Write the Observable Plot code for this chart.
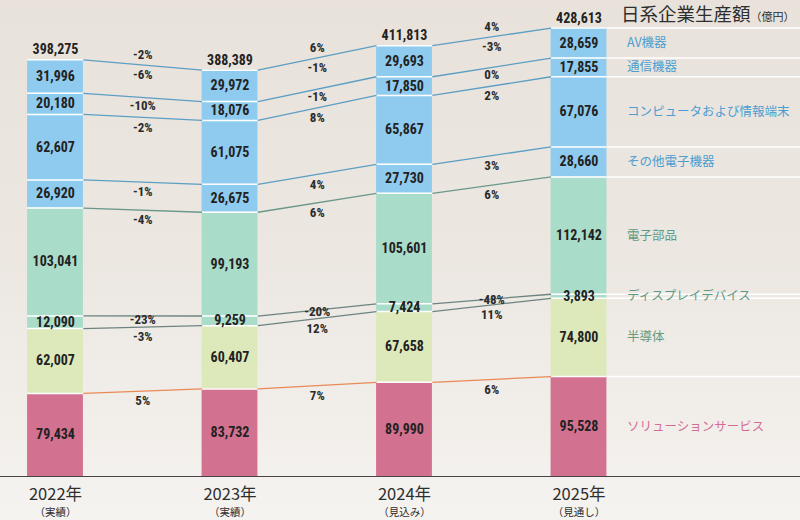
<!DOCTYPE html>
<html><head><meta charset="utf-8">
<script src="https://cdn.jsdelivr.net/npm/d3@7"></script>
<script src="https://cdn.jsdelivr.net/npm/@observablehq/plot@0.6"></script>
<style>
html,body{margin:0;padding:0}
body{width:800px;height:520px;overflow:hidden;background:linear-gradient(#e8e2db 0%,#ece7e1 50%,#f5f3f0 100%);font-family:"Noto Sans CJK JP","Noto Sans",sans-serif}
#wrap{position:relative;width:800px;height:520px}
#title{position:absolute;left:621px;top:4px;color:#2e2e2e;white-space:nowrap;line-height:1}
#title .main{font-size:18.5px}
#title .unit{font-size:11px}
</style>
</head><body>
<div id="wrap"><div id="title"><span class="main">日系企業生産額</span><span class="unit">（億円）</span></div></div>
<script>
// ---- data ----
const years = ["2022年", "2023年", "2024年", "2025年"];
const yearNotes = ["（実績）", "（実績）", "（見込み）", "（見通し）"];
// stacked bottom -> top
const categories = ["ソリューションサービス", "半導体", "ディスプレイデバイス", "電子部品", "その他電子機器", "コンピュータおよび情報端末", "通信機器", "AV機器"];
const solutionService = [79434, 83732, 89990, 95528];
const semiconductor   = [62007, 60407, 67658, 74800];
const displayDevice   = [12090, 9259, 7424, 3893];
const electronicParts = [103041, 99193, 105601, 112142];
const otherElectronic = [26920, 26675, 27730, 28660];
const computers       = [62607, 61075, 65867, 67076];
const communication   = [20180, 18076, 17850, 17855];
const avEquipment     = [31996, 29972, 29693, 28659];
const totals          = [398275, 388389, 411813, 428613];
// year-on-year change labels (3 transitions)
const totalGrowth           = ["-2%", "6%", "4%"];
const solutionServiceGrowth = ["5%", "7%", "6%"];
const semiconductorGrowth   = ["-3%", "12%", "11%"];
const displayDeviceGrowth   = ["-23%", "-20%", "-48%"];
const electronicPartsGrowth = ["-4%", "6%", "6%"];
const otherElectronicGrowth = ["-1%", "4%", "3%"];
const computersGrowth       = ["-2%", "8%", "2%"];
const communicationGrowth   = ["-10%", "-1%", "0%"];
const avEquipmentGrowth     = ["-6%", "-1%", "-3%"];

const series = [solutionService, semiconductor, displayDevice, electronicParts, otherElectronic, computers, communication, avEquipment];
const growths = [solutionServiceGrowth, semiconductorGrowth, displayDeviceGrowth, electronicPartsGrowth, otherElectronicGrowth, computersGrowth, communicationGrowth, avEquipmentGrowth];

// ---- styles ----
const BLUE = "#8fcbef", MINT = "#aadcca", LGREEN = "#dde9bb", PINK = "#d37190";
const fills = [PINK, LGREEN, MINT, MINT, BLUE, BLUE, BLUE, BLUE];
const lineColors = ["#ea8a55", "#6d8480", "#6d8480", "#6b978c", "#5c9ec4", "#5c9ec4", "#5c9ec4", "#5c9ec4"];
const labelColors = ["#d36d96", "#6a9a7c", "#5f9a84", "#5f9a84", "#4c9ed2", "#4c9ed2", "#4c9ed2", "#4c9ed2"];
const numFont = '"Liberation Sans Narrow","Roboto Condensed","DejaVu Sans Condensed",sans-serif';
const jpFont = '"Noto Sans CJK JP","Noto Sans",sans-serif';
const hw = 0.16;            // half bar width in x units
const step = 174.5;         // px per year
const xDomain = [-55 / step, (800 - 55) / step];
const yMax = 455000;
const unitsPerPx = yMax / 476;

// ---- build stacked segments ----
const segs = [];
years.forEach((yr, i) => {
  let cum = 0;
  series.forEach((s, k) => {
    segs.push({i, k, y1: cum, y2: cum + s[i], v: s[i]});
    cum += s[i];
  });
});
const seg = (k, i) => segs.find(d => d.k === k && d.i === i);

const links = [], pctLabels = [];
for (let t = 0; t < 3; t++) {
  categories.forEach((c, k) => {
    const a = seg(k, t), b = seg(k, t + 1);
    links.push({x1: t + hw, x2: t + 1 - hw, y1: a.y2, y2: b.y2, k});
    const mid = (a.y2 + b.y2) / 2, low = (a.y1 + b.y1) / 2;
    const off = Math.min(10 * unitsPerPx, (mid - low) / 2 - 2 * unitsPerPx);
    pctLabels.push({x: t + 0.5, y: mid - off, text: growths[k][t]});
  });
  pctLabels.push({x: t + 0.5, y: (totals[t] + totals[t + 1]) / 2 + 10 * unitsPerPx, text: totalGrowth[t]});
}
const last = years.length - 1;
const rightLabels = categories.map((c, k) => {
  const s = seg(k, last);
  return {x: last, y: (s.y1 + s.y2) / 2, text: c, k};
});
const yearIdx = years.map((y, i) => ({i, y, note: yearNotes[i], total: totals[i]}));

const chart = Plot.plot({
  width: 800, height: 520,
  marginLeft: 0, marginRight: 0, marginTop: 0, marginBottom: 44,
  x: {type: "linear", domain: xDomain, axis: null},
  y: {domain: [0, yMax], axis: null},
  style: {background: "transparent", overflow: "visible"},
  marks: [
    // white rules extending right of last bar
    Plot.ruleY(segs.filter(d => d.i === last), {y: "y2", x1: last + hw, x2: xDomain[1], stroke: "white", strokeWidth: 1.5}),
    Plot.rect(segs, {x1: d => d.i - hw, x2: d => d.i + hw, y1: "y1", y2: "y2", fill: d => fills[d.k]}),
    Plot.ruleY(segs, {y: "y2", x1: d => d.i - hw, x2: d => d.i + hw, stroke: "white", strokeWidth: 1.5}),
    Plot.link(links, {x1: "x1", x2: "x2", y1: "y1", y2: "y2", stroke: d => lineColors[d.k], strokeWidth: 1.3}),
    Plot.text(pctLabels, {x: "x", y: "y", text: "text", fontFamily: numFont, fontWeight: "bold", fontSize: 13, fill: "#2b2b2b"}),
    Plot.text(segs, {x: "i", y: d => (d.y1 + d.y2) / 2, text: d => d3.format(",")(d.v), fontFamily: numFont, fontWeight: "bold", fontSize: 14, fill: "#222"}),
    Plot.text(yearIdx, {x: "i", y: "total", dy: -10, text: d => d3.format(",")(d.total), fontFamily: numFont, fontWeight: "bold", fontSize: 14, fill: "#222"}),
    Plot.text(rightLabels, {x: "x", y: "y", dx: 48, text: "text", textAnchor: "start", fontFamily: jpFont, fontSize: 12.5, fill: d => labelColors[d.k]}),
    Plot.ruleY([0], {stroke: "#444", strokeWidth: 1.2}),
    Plot.text(yearIdx, {x: "i", y: 0, dy: 18, text: "y", fontFamily: jpFont, fontSize: 16.5, fill: "#2e2e2e"}),
    Plot.text(yearIdx, {x: "i", y: 0, dy: 36, text: "note", fontFamily: jpFont, fontSize: 10.5, fill: "#2e2e2e"})
  ]
});
document.getElementById("wrap").prepend(chart);
chart.style.position = "absolute";
chart.style.left = "0";
chart.style.top = "0";
</script>
</body></html>
